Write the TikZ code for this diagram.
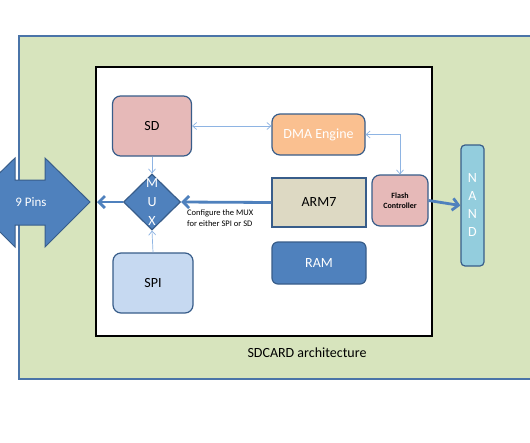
\documentclass[tikz,border=0pt]{standalone}
\usepackage{fontspec}
\setmainfont{Carlito}
\usetikzlibrary{shapes.geometric,arrows.meta}
\definecolor{cardgreen}{HTML}{D7E4BD}
\definecolor{cardedge}{HTML}{4A74A8}
\definecolor{edgeblue}{HTML}{385D8A}
\definecolor{midblue}{HTML}{4F81BD}
\definecolor{thinblue}{HTML}{8EB4E3}
\definecolor{pinkfill}{HTML}{E6B9B8}
\definecolor{orangefill}{HTML}{FAC090}
\definecolor{tanfill}{HTML}{DDD9C3}
\definecolor{spifill}{HTML}{C6D9F1}
\definecolor{nandfill}{HTML}{93CDDD}
\begin{document}
\begin{tikzpicture}[x=1pt,y=-1pt,
  blk/.style={draw=edgeblue,line width=1.2pt,rounded corners=8pt,font=\fontsize{14}{16}\selectfont},
  bus/.style={draw=midblue,line width=2.8pt,-{Straight Barb[length=6pt,width=12pt]}},
  link/.style={draw=thinblue,line width=0.7pt,{Straight Barb[length=4pt,width=7pt]}-{Straight Barb[length=4pt,width=7pt]}},
  feed/.style={draw=thinblue,line width=0.7pt,-{Straight Barb[length=4pt,width=7pt]}}]
\useasboundingbox (0,0) rectangle (530,442);
\clip (0,0) rectangle (530,442);
\draw[cardedge,fill=cardgreen,line width=1.5pt] (19,36) rectangle (545,379);
\draw[black,fill=white,line width=1.8pt] (96,67) rectangle (432,336);
\filldraw[fill=midblue,draw=edgeblue,line width=1pt] (-30,202) -- (15,158) -- (15,180) -- (45,180) -- (45,158)
  -- (90,202) -- (45,247) -- (45,225) -- (15,225) -- (15,247) -- cycle;
\node[text=white,font=\fontsize{13}{15}\selectfont] (pins) at (31,202) {9 Pins};
\coordinate (pinstip) at (90,202);
\node[blk,fill=pinkfill,minimum width=79pt,minimum height=60pt] (sd) at (152,126) {SD};
\node[blk,fill=orangefill,text=white,minimum width=93pt,minimum height=41pt] (dma) at (318.5,134.5) {DMA Engine};
\node[blk,fill=tanfill,rounded corners=0pt,minimum width=94pt,minimum height=49pt] (arm) at (319,202.5) {ARM7};
\node[blk,fill=pinkfill,minimum width=56pt,minimum height=51pt,align=center,
  font=\bfseries\fontsize{8}{9.5}\selectfont] (flash) at (400,200.5) {Flash\\Controller};
\node[blk,fill=midblue,text=white,rounded corners=6pt,minimum width=94pt,minimum height=42pt] (ram) at (319,263) {RAM};
\node[blk,fill=spifill,minimum width=80pt,minimum height=60pt] (spi) at (153,283) {SPI};
\node[blk,fill=nandfill,text=white,rounded corners=4pt,minimum width=23pt,minimum height=121pt,align=center,
  font=\fontsize{14}{18}\selectfont] (nand) at (472.5,205.5) {N\\A\\N\\D};
\node[diamond,aspect=1,draw=edgeblue,fill=midblue,line width=1.2pt,inner sep=0pt,
  minimum width=57pt,minimum height=56pt] (mux) at (152,202) {};
\node[text=white,align=center,font=\fontsize{14}{19}\selectfont] (muxtext) at (mux.center) {M\\U\\X};
\draw[link] (sd.east) -- (dma.west |- sd.east);
\draw[link] (dma.east) -| (flash.north);
\draw[feed] (sd.south) -- (mux.north);
\draw[feed] (spi.north) -- (mux.south);
\draw[bus] (arm.west) -- (mux.east);
\draw[bus,shorten >=7pt] (mux.west) -- (pinstip);
\draw[bus] (flash.east) -- (nand.west);
\node[anchor=north west,align=left,inner sep=0pt,font=\fontsize{8.5}{11}\selectfont] (note) at (187,209)
  {Configure the MUX\\for either SPI or SD};
\node[font=\fontsize{14}{16}\selectfont] (title) at (307,353) {SDCARD architecture};
\end{tikzpicture}
\end{document}
